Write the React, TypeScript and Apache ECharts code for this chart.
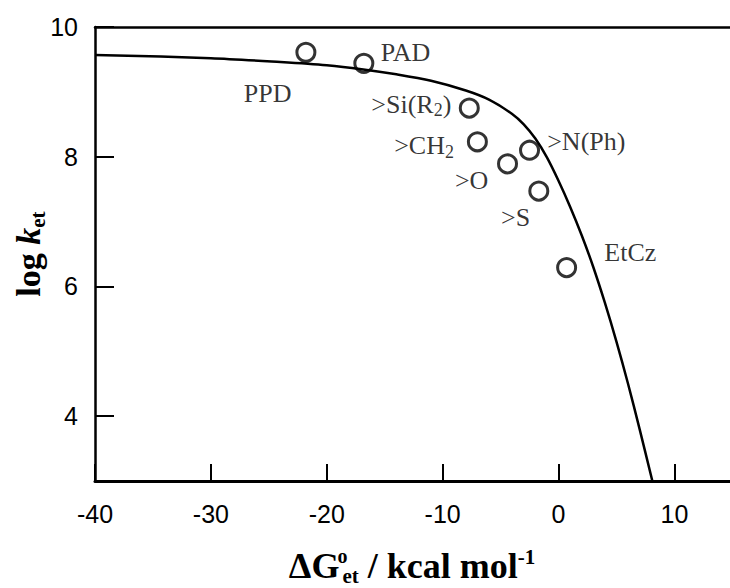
import React, { useEffect, useRef } from "react";
import * as echarts from "echarts";

// Fitted curve
const curveX = [-40, -30, -24, -20, -17, -14, -11, -8, -6, -4, -3, -2, -1, 0, 1, 2, 3, 4, 5, 6, 7, 8.1];
const curveY = [9.57, 9.52, 9.46, 9.41, 9.35, 9.27, 9.17, 9.02, 8.88, 8.66, 8.5, 8.28, 7.99, 7.63, 7.23, 6.79, 6.3, 5.75, 5.15, 4.5, 3.8, 3.0];

// Measured points
const pointNames = ["PPD", "PAD", ">Si(R2)", ">CH2", ">O", ">N(Ph)", ">S", "EtCz"];
const pointX = [-21.8, -16.8, -7.7, -7.0, -4.4, -2.5, -1.7, 0.7];
const pointY = [9.61, 9.44, 8.75, 8.23, 7.89, 8.1, 7.47, 6.29];

// Annotation anchors (data coordinates)
const labelNames = ["PPD", "PAD", ">Si(R2)", ">CH2", ">O", ">N(Ph)", ">S", "EtCz"];
const labelX = [-25.1, -13.2, -12.7, -11.6, -7.5, 2.4, -3.7, 6.2];
const labelY = [8.98, 9.61, 8.81, 8.17, 7.64, 8.23, 7.06, 6.52];

const xTicks = [-40, -30, -20, -10, 0, 10];
const yTicks = [4, 6, 8, 10];

const SERIF = "'Liberation Serif', 'Times New Roman', serif";
const SANS = "'Liberation Sans', Arial, sans-serif";

function toRich(name: string): string {
  return name
    .split(/(\d)/)
    .filter((s) => s.length > 0)
    .map((s) => (/^\d$/.test(s) ? `{s|${s}}` : `{t|${s}}`))
    .join("");
}

export default function App() {
  const ref = useRef<HTMLDivElement>(null);
  useEffect(() => {
    if (!ref.current) return;
    const chart = echarts.init(ref.current, undefined, { renderer: "svg" });
    const axisColor = "#000";
    const option: any = {
      animation: false,
      backgroundColor: "#fff",
      grid: { left: 95, top: 27, right: 0, bottom: 107 },
      xAxis: [
        {
          type: "value",
          min: xTicks[0],
          max: 14.8,
          interval: 10,
          axisLine: { show: true, onZero: false, lineStyle: { color: axisColor, width: 3 } },
          axisTick: { show: true, inside: true, length: 17, lineStyle: { color: axisColor, width: 2 } },
          axisLabel: {
            show: true,
            margin: 20,
            fontSize: 25,
            color: "#000",
            fontFamily: SANS,
            showMaxLabel: false,
            formatter: (v: number) => (xTicks.indexOf(v) >= 0 ? String(v) : ""),
          },
          splitLine: { show: false },
        },
        {
          type: "value",
          position: "top",
          min: xTicks[0],
          max: 14.8,
          interval: 10,
          axisLine: { show: true, onZero: false, lineStyle: { color: axisColor, width: 2.5 } },
          axisTick: { show: false },
          axisLabel: { show: false },
          splitLine: { show: false },
        },
      ],
      yAxis: {
        type: "value",
        min: 3,
        max: 10,
        splitNumber: 3,
        axisLine: { show: true, onZero: false, lineStyle: { color: axisColor, width: 2.5 } },
        axisTick: { show: true, inside: true, length: 19, lineStyle: { color: axisColor, width: 2 } },
        axisLabel: {
          show: true,
          margin: 17,
          fontSize: 25,
          color: "#000",
          fontFamily: SANS,
          showMinLabel: false,
          formatter: (v: number) => (yTicks.indexOf(v) >= 0 ? String(v) : ""),
        },
        splitLine: { show: false },
      },
      series: [
        {
          type: "line",
          data: curveX.map((x, i) => [x, curveY[i]]),
          showSymbol: false,
          smooth: 0.3,
          lineStyle: { color: "#000", width: 2.5 },
          z: 2,
        },
        {
          type: "scatter",
          data: pointX.map((x, i) => ({ name: pointNames[i], value: [x, pointY[i]] })),
          symbol: "circle",
          symbolSize: 18,
          itemStyle: { color: "rgba(0,0,0,0)", borderColor: "#000", borderWidth: 3 },
          z: 3,
        },
        {
          type: "scatter",
          data: labelX.map((x, i) => ({ name: labelNames[i], value: [x, labelY[i]] })),
          symbolSize: 0,
          silent: true,
          label: {
            show: true,
            position: "inside",
            align: "center",
            verticalAlign: "middle",
            formatter: (p: any) => toRich(p.name),
            rich: {
              t: { fontFamily: SERIF, fontSize: 26, color: "#000", lineHeight: 30, verticalAlign: "middle" },
              s: { fontFamily: SERIF, fontSize: 18, color: "#000", lineHeight: 14, verticalAlign: "bottom" },
            },
          },
          z: 4,
        },
      ],
      graphic: [
        {
          type: "text",
          x: 412,
          y: 566,
          style: {
            text: "{a|ΔG}{sup|o}{sub|et}{a| / kcal mol}{sup2|-1}",
            align: "center",
            verticalAlign: "middle",
            textAlign: "center",
            textVerticalAlign: "middle",
            fill: "#000",
            rich: {
              a: { fontFamily: SERIF, fontWeight: "bold", fontSize: 36, lineHeight: 40, fill: "#000" },
              sup: { fontFamily: SERIF, fontWeight: "bold", fontSize: 20, lineHeight: 1, verticalAlign: "top", width: 0, padding: [0, 0, 0, 3], fill: "#000" },
              sub: { fontFamily: SERIF, fontWeight: "bold", fontSize: 21, lineHeight: 16, verticalAlign: "bottom", fill: "#000" },
              sup2: { fontFamily: SERIF, fontWeight: "bold", fontSize: 21, lineHeight: 10, verticalAlign: "top", fill: "#000" },
            },
          },
        },
        {
          type: "text",
          x: 28,
          y: 254,
          rotation: Math.PI / 2,
          style: {
            text: "{a|log }{k|k}{sub|et}",
            align: "center",
            verticalAlign: "middle",
            textAlign: "center",
            textVerticalAlign: "middle",
            fill: "#000",
            rich: {
              a: { fontFamily: SERIF, fontWeight: "bold", fontSize: 34, lineHeight: 40, fill: "#000" },
              k: { fontFamily: SERIF, fontWeight: "bold", fontStyle: "italic", fontSize: 34, lineHeight: 40, fill: "#000" },
              sub: { fontFamily: SERIF, fontWeight: "bold", fontSize: 21, lineHeight: 16, verticalAlign: "bottom", fill: "#000" },
            },
          },
        },
      ],
    };
    chart.setOption(option);
    return () => chart.dispose();
  }, []);
  return (
    <div
      ref={ref}
      style={{ position: "fixed", left: 0, top: 0, width: 730, height: 588, background: "#fff" }}
    />
  );
}
